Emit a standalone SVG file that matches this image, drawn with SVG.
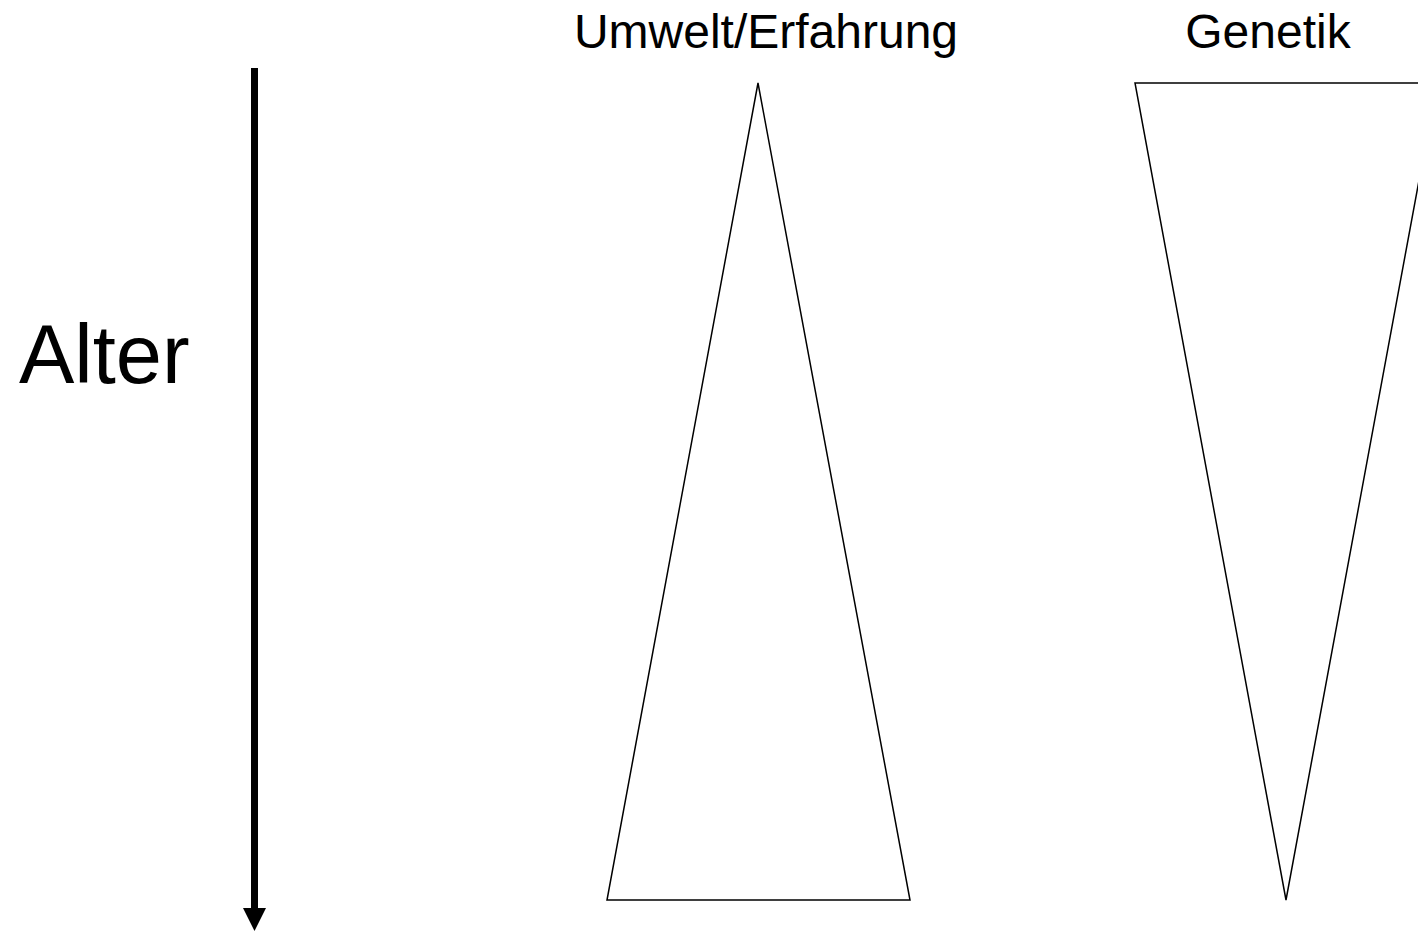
<svg xmlns="http://www.w3.org/2000/svg" width="1418" height="931" viewBox="0 0 1418 931">
<style>
.lbl{font-family:"Liberation Sans",Arial,sans-serif;fill:#000}
.tri{fill:#fff;stroke:#000;stroke-width:1.5;stroke-linejoin:miter}
</style>
<rect width="1418" height="931" fill="#fff"/>
<g id="connectors">
<line x1="254.5" y1="68" x2="254.5" y2="909" stroke="#000" stroke-width="7"/>
<polygon points="243,908 266,908 254.5,931" fill="#000"/>
</g>
<g id="alter"><text class="lbl" x="19" y="383" font-size="83">Alter</text></g>
<g id="umwelt">
<text class="lbl" x="766" y="48" font-size="48" text-anchor="middle">Umwelt/Erfahrung</text>
<polygon class="tri" points="758,83 910,900 607,900"/>
</g>
<g id="genetik">
<text class="lbl" x="1268" y="48" font-size="48" text-anchor="middle">Genetik</text>
<polygon class="tri" points="1135,83 1437,83 1286,900"/>
</g>
</svg>
